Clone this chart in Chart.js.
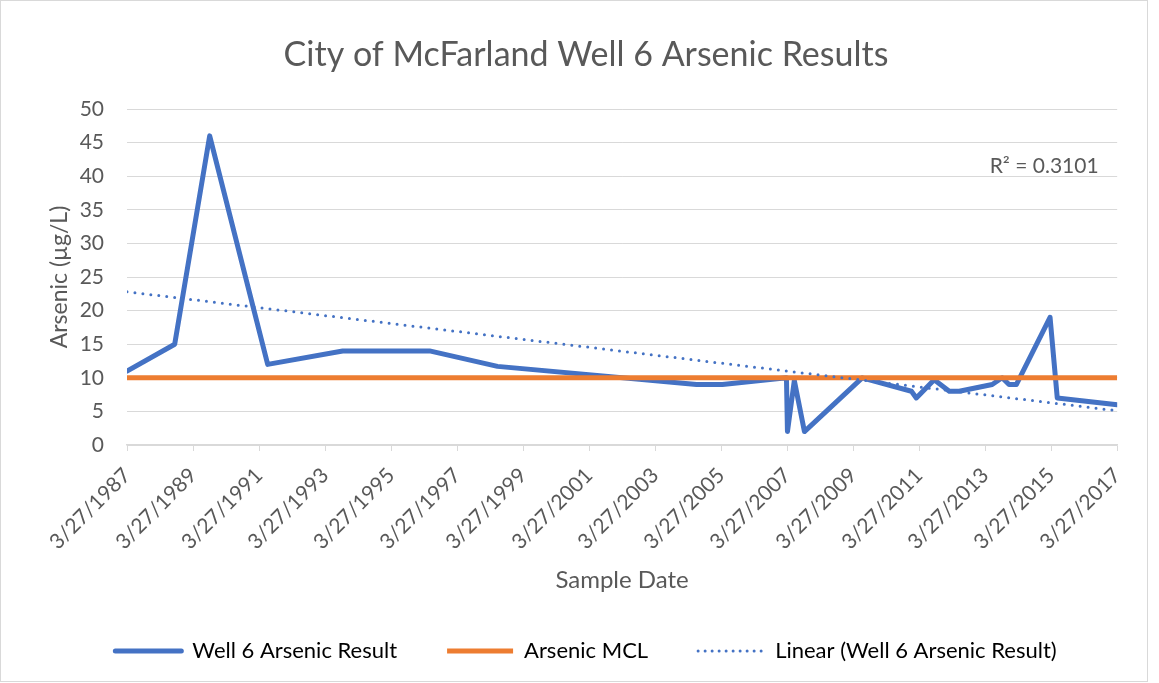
<!DOCTYPE html>
<html>
<head>
<meta charset="utf-8">
<title>City of McFarland Well 6 Arsenic Results</title>
<script src="https://cdn.jsdelivr.net/npm/chart.js@4.4.1/dist/chart.umd.min.js"></script>
<style>
  html, body { margin: 0; padding: 0; background: #fff; }
  #wrap { position: absolute; left: 0; top: 0; width: 1146px; height: 680px; border: 1px solid #d9d9d9; }
  canvas { display: block; }
</style>
</head>
<body>
<div id="wrap"><canvas id="arsenicChart"></canvas></div>
<script>
/* --- DATA --- */
const sampleDates = ['3/27/1987', '9/5/1988', '9/27/1989', '7/1/1991', '10/8/1993', '5/26/1996', '6/17/1998',
    '6/28/2004', '4/10/2005', '3/20/2007', '3/31/2007', '6/15/2007', '10/5/2007', '7/5/2009',
    '1/1/2011', '2/24/2011', '9/10/2011', '2/24/2012', '6/13/2012', '6/13/2013', '10/1/2013',
    '12/16/2013', '3/7/2014', '3/15/2015', '6/3/2015', '3/27/2017'];
const arsenicResults = [11, 15, 46, 12, 14, 14, 11.7,
    9, 9, 10, 2, 9.6, 2, 10,
    8, 7, 9.7, 8, 8, 9, 10,
    9, 9, 19, 7, 6];

const mclDates = ['3/27/1987', '3/27/2017'];
const mclValues = [10, 10];

// excel linear trendline, endpoints as drawn
const trendDates = ['3/27/1987', '3/27/2017'];
const trendValues = [22.8, 5.1];
const rSquaredText = 'R² = 0.3101';

const tickLabels = ['3/27/1987', '3/27/1989', '3/27/1991', '3/27/1993', '3/27/1995', '3/27/1997',
    '3/27/1999', '3/27/2001', '3/27/2003', '3/27/2005', '3/27/2007', '3/27/2009',
    '3/27/2011', '3/27/2013', '3/27/2015', '3/27/2017'];

const BLUE = '#4472C4';
const ORANGE = '#ED7D31';
const GREY_TEXT = '#595959';
const GRID = '#d9d9d9';
const FONT = 'Lato';

// days since the first tick
function toDays(s) {
    const [m, d, y] = s.split('/').map(Number);
    return (Date.UTC(y, m - 1, d) - Date.UTC(1987, 2, 27)) / 86400000;
}

function toPoints(dates, values) {
    return dates.map((d, i) => ({ x: toDays(d), y: values[i] }));
}

// R² label near the top right of the plot
const rSquaredPlugin = {
    id: 'rSquared',
    afterDatasetsDraw(chart) {
        const { ctx, chartArea } = chart;
        ctx.save();
        ctx.font = `21px ${FONT}`;
        ctx.fillStyle = GREY_TEXT;
        ctx.textAlign = 'center';
        ctx.textBaseline = 'middle';
        ctx.fillText(rSquaredText, chartArea.right - 73, chartArea.top + 57);
        ctx.restore();
    }
};

const ctx = document.getElementById('arsenicChart').getContext('2d');

new Chart(ctx, {
    type: 'line',
    data: {
        datasets: [{
            label: 'Well 6 Arsenic Result',
            data: toPoints(sampleDates, arsenicResults),
            borderColor: BLUE,
            backgroundColor: BLUE,
            borderWidth: 5,
            borderJoinStyle: 'round',
            borderCapStyle: 'round',
            pointRadius: 0,
            tension: 0,
            order: 2
        }, {
            label: 'Arsenic MCL',
            data: toPoints(mclDates, mclValues),
            borderColor: ORANGE,
            backgroundColor: ORANGE,
            borderWidth: 5,
            pointRadius: 0,
            order: 1
        }, {
            label: 'Linear (Well 6 Arsenic Result)',
            data: toPoints(trendDates, trendValues),
            borderColor: BLUE,
            backgroundColor: BLUE,
            borderWidth: 3,
            borderDash: [0, 8],
            borderCapStyle: 'round',
            pointRadius: 0,
            order: 0
        }]
    },
    options: {
        responsive: true,
        maintainAspectRatio: false,
        animation: false,
        layout: { padding: { left: 24, right: 0, top: 0, bottom: 9 } },
        plugins: {
            tooltip: { enabled: false },
            title: {
                display: true,
                text: 'City of McFarland Well 6 Arsenic Results',
                color: GREY_TEXT,
                font: { family: FONT, size: 34, weight: 'normal' },
                padding: { top: 33.6, bottom: 33.6 }
            },
            legend: {
                position: 'bottom',
                labels: {
                    color: GREY_TEXT,
                    font: { family: FONT, size: 22 },
                    usePointStyle: true,
                    pointStyleWidth: 66,
                    padding: 50,
                    generateLabels: () => [
                        { text: 'Well 6 Arsenic Result', strokeStyle: BLUE, fillStyle: BLUE, lineWidth: 5, lineCap: 'round', pointStyle: 'line', datasetIndex: 0 },
                        { text: 'Arsenic MCL', strokeStyle: ORANGE, fillStyle: ORANGE, lineWidth: 5, lineCap: 'butt', pointStyle: 'line', datasetIndex: 1 },
                        { text: 'Linear (Well 6 Arsenic Result)', strokeStyle: BLUE, fillStyle: BLUE, lineWidth: 3, lineCap: 'round', lineDash: [0, 7], pointStyle: 'line', datasetIndex: 2 }
                    ]
                }
            }
        },
        scales: {
            x: {
                type: 'linear',
                min: toDays(tickLabels[0]),
                max: toDays(tickLabels[tickLabels.length - 1]),
                afterBuildTicks: (scale) => {
                    scale.ticks = tickLabels.map(t => ({ value: toDays(t) }));
                },
                afterFit: (scale) => { scale.height = 145; },
                ticks: {
                    autoSkip: false,
                    minRotation: 45,
                    maxRotation: 45,
                    padding: 12,
                    color: GREY_TEXT,
                    font: { family: FONT, size: 21 },
                    callback: (v, i) => tickLabels[i]
                },
                grid: { drawOnChartArea: false, drawTicks: true, tickLength: 6, color: GRID },
                border: { display: true, color: GRID, width: 1.5 },
                title: {
                    display: true,
                    text: 'Sample Date',
                    color: GREY_TEXT,
                    font: { family: FONT, size: 24 },
                    padding: { top: 0, bottom: -4.4 }
                }
            },
            y: {
                min: 0,
                max: 50,
                afterFit: (scale) => { scale.width = 102; },
                ticks: {
                    stepSize: 5,
                    padding: 23,
                    color: GREY_TEXT,
                    font: { family: FONT, size: 21 }
                },
                grid: { color: GRID, drawTicks: false },
                border: { display: false },
                title: {
                    display: true,
                    text: 'Arsenic (µg/L)',
                    color: GREY_TEXT,
                    font: { family: FONT, size: 23 },
                    padding: { top: 21, bottom: 0 }
                }
            },
            // empty right axis keeps the right margin
            yRight: {
                position: 'right',
                display: true,
                afterFit: (scale) => { scale.width = 29; },
                ticks: { display: false },
                grid: { drawOnChartArea: false, drawTicks: false },
                border: { display: false }
            }
        }
    },
    plugins: [rSquaredPlugin]
});
</script>
</body>
</html>
